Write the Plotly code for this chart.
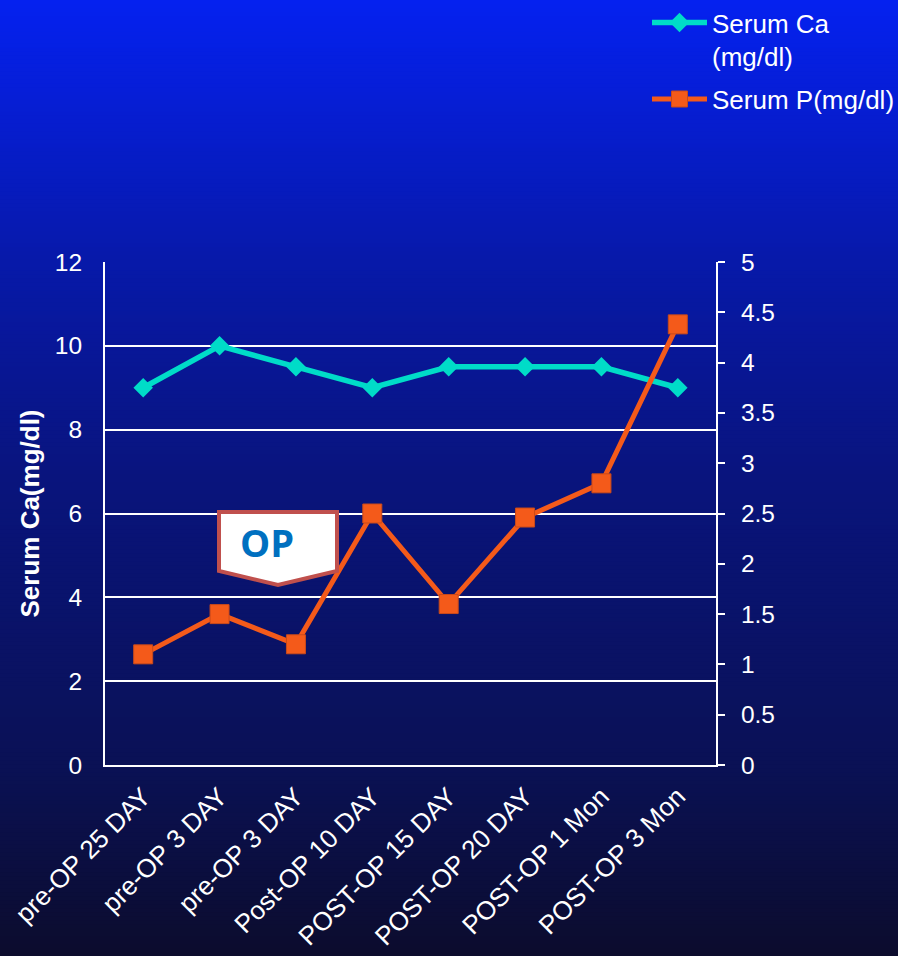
import plotly.graph_objects as go

# ---- data ----
categories = ["pre-OP 25 DAY", "pre-OP 3 DAY", "pre-OP 3 DAY", "Post-OP 10 DAY",
              "POST-OP 15 DAY", "POST-OP 20 DAY", "POST-OP 1 Mon", "POST-OP 3 Mon"]
serum_ca = [9, 10, 9.5, 9, 9.5, 9.5, 9.5, 9]
serum_p = [1.1, 1.5, 1.2, 2.5, 1.6, 2.46, 2.8, 4.38]
left_ticks = [0, 2, 4, 6, 8, 10, 12]
right_ticks = [0, 0.5, 1, 1.5, 2, 2.5, 3, 3.5, 4, 4.5, 5]
right_ticktext = ["0", "0.5", "1", "1.5", "2", "2.5", "3", "3.5", "4", "4.5", "5"]

W, H = 898, 956
L, R, T, B = 105, 182, 262, 191
PW, PH = W - L - R, H - T - B

def px(xp):
    return (xp - L) / PW

def py(yp):
    return (H - B - yp) / PH

x_idx = list(range(len(categories)))
FONT = "Arial, Liberation Sans, sans-serif"

fig = go.Figure()
fig.add_trace(go.Scatter(
    x=x_idx, y=serum_ca, name="Serum Ca<br>(mg/dl)", mode="lines+markers",
    legendgroup="ca",
    line=dict(color="#00DCC8", width=5.5),
    marker=dict(symbol="diamond", size=15, color="#00DCC8"),
    yaxis="y", cliponaxis=False))
fig.add_trace(go.Scatter(
    x=x_idx, y=serum_p, name="Serum P(mg/dl)", mode="lines+markers",
    legendgroup="p",
    line=dict(color="#F45A1A", width=5),
    marker=dict(symbol="square", size=19, color="#F45A1A",
                line=dict(color="#C94A1A", width=1)),
    yaxis="y2", cliponaxis=False))

# background gradient
stops = [(0.0, (5, 33, 240)), (0.27, (7, 25, 170)), (0.5, (9, 20, 125)),
         (0.8, (10, 17, 85)), (1.0, (12, 12, 45))]

def col(t):
    for (t0, c0), (t1, c1) in zip(stops[:-1], stops[1:]):
        if t0 <= t <= t1:
            f = (t - t0) / (t1 - t0)
            return "rgb(%d,%d,%d)" % tuple(round(a + (b - a) * f) for a, b in zip(c0, c1))
    return "rgb(%d,%d,%d)" % stops[-1][1]

shapes = []
N = 240
for i in range(N):
    y0p = H * i / N
    y1p = H * (i + 1) / N + 1
    shapes.append(dict(type="rect", xref="paper", yref="paper", layer="below",
                       x0=px(-5), x1=px(W + 5), y0=py(y1p), y1=py(y0p),
                       fillcolor=col((i + 0.5) / N), line=dict(width=0)))

# OP callout
pts = [(219, 512), (337, 512), (337, 571), (278, 585), (219, 571)]
path = "M " + " L ".join("%f,%f" % (px(a), py(b)) for a, b in pts) + " Z"
shapes.append(dict(type="path", xref="paper", yref="paper", path=path,
                   fillcolor="white", line=dict(color="#C0504D", width=4), layer="above"))

fig.update_layout(
    width=W, height=H,
    margin=dict(l=L, r=R, t=T, b=B, autoexpand=False),
    paper_bgcolor="#0a1a80", plot_bgcolor="rgba(0,0,0,0)",
    font=dict(family=FONT, color="white", size=24),
    shapes=shapes,
    showlegend=True,
    legend=dict(x=px(647), y=py(-1), xanchor="left", yanchor="top",
                font=dict(size=26, color="white", family=FONT),
                bgcolor="rgba(0,0,0,0)", valign="top", itemwidth=55,
                tracegroupgap=6),
    xaxis=dict(range=[-0.5, 7.5], tickmode="array", tickvals=x_idx, ticktext=categories,
               tickangle=-45, showgrid=False, showline=True, linecolor="white", linewidth=2,
               mirror=False, ticks="", ticklabelstandoff=4,
               tickfont=dict(size=26, color="white"), zeroline=False),
    yaxis=dict(range=[0, 12], tickmode="array", tickvals=left_ticks, showgrid=True,
               gridcolor="white", gridwidth=2, showline=True, linecolor="white", linewidth=2,
               ticks="", ticklabelstandoff=16, tickfont=dict(size=24.5, color="white"),
               zeroline=False,
               title=dict(text="<b>Serum Ca(mg/dl)</b>", font=dict(size=26, color="white"),
                          standoff=8)),
    yaxis2=dict(range=[0, 5], overlaying="y", side="right", tickmode="array",
                tickvals=right_ticks, ticktext=right_ticktext, showgrid=False,
                showline=True, linecolor="white", linewidth=2, ticks="outside",
                ticklen=7, tickwidth=2, tickcolor="white", ticklabelstandoff=11,
                tickfont=dict(size=24.5, color="white"), zeroline=False),
    annotations=[dict(text="<b>OP</b>", xref="paper", yref="paper", x=px(267), y=py(542),
                      xanchor="center", yanchor="middle", showarrow=False,
                      font=dict(family="Open Sans, Noto Sans, sans-serif", size=38,
                                color="#0070C0"))],
)

fig.write_html("out.html", config={"displayModeBar": False},
               post_script="document.body.style.margin='0';document.body.style.overflow='hidden';")
